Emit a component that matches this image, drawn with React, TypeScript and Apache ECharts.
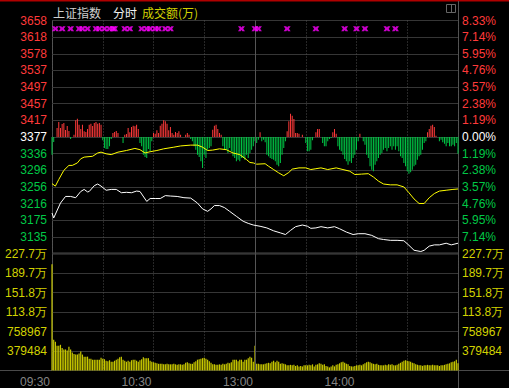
import React, { useEffect, useRef } from 'react';
import * as echarts from 'echarts';

// ---------- data ----------
const PREV_CLOSE = 3376.6;
const PRICE_STEP = 40.2;

// axis labels, bottom to top (index 0 hidden: shared with volume top)
const PRICE_LABELS = ['', '3135', '3175', '3216', '3256', '3296', '3336', '3377', '3417', '3457', '3497', '3537', '3578', '3618', '3658'];
const PCT_LABELS = ['', '7.14%', '5.95%', '4.76%', '3.57%', '2.38%', '1.19%', '0.00%', '1.19%', '2.38%', '3.57%', '4.76%', '5.95%', '7.14%', '8.33%'];
const VOL_LABELS = ['', '379484', '758967', '113.8万', '151.8万', '189.7万', '227.7万'];
const VOL_MAX = 227.6904; // 万

const TIME_TICKS = [0, 60, 120, 180];
const TIME_LABELS = ['09:30', '10:30', '13:00', '14:00'];

// index line (white)
const PRICE_MINUTES = [0, 1, 5, 8, 11, 14, 17, 19, 21, 22, 25, 27, 29, 32, 35, 38, 41, 44, 47, 50, 52, 56, 58, 61, 64, 67, 70, 74, 78, 82, 86, 89, 92, 94, 96, 99, 102, 105, 109, 113, 116, 119, 123, 127, 131, 135, 138, 141, 144, 148, 151, 153, 156, 159, 163, 167, 170, 174, 178, 181, 185, 189, 193, 196, 200, 204, 208, 211, 214, 218, 220, 223, 226, 229, 233, 236, 240];
const PRICE_VALUES = [3193, 3181, 3217, 3233, 3233, 3230, 3245, 3250, 3244, 3245, 3259, 3263, 3258, 3248, 3250, 3250, 3242, 3243, 3242, 3246, 3245, 3221, 3228, 3228, 3228, 3235, 3234, 3233, 3230, 3229, 3217, 3203, 3197, 3203, 3211, 3211, 3206, 3197, 3185, 3173, 3168, 3164, 3161, 3157, 3150, 3145, 3141, 3151, 3160, 3164, 3161, 3156, 3157, 3160, 3157, 3160, 3155, 3147, 3141, 3143, 3143, 3139, 3131, 3129, 3127, 3127, 3126, 3115, 3103, 3100, 3103, 3113, 3116, 3116, 3120, 3116, 3120];

// average line (yellow)
const AVG_MINUTES = [0, 2, 4, 7, 10, 12, 15, 17, 19, 24, 27, 29, 32, 35, 39, 44, 49, 52, 55, 58, 62, 66, 72, 76, 82, 86, 89, 92, 95, 99, 103, 107, 111, 115, 117, 119, 121, 126, 128, 131, 134, 137, 140, 142, 146, 150, 153, 156, 159, 163, 168, 172, 176, 179, 183, 187, 190, 193, 196, 200, 204, 208, 211, 214, 217, 220, 223, 226, 229, 233, 237, 240];
const AVG_VALUES = [3264, 3258, 3274, 3296, 3308, 3308, 3314, 3324, 3328, 3330, 3338, 3340, 3336, 3334, 3340, 3344, 3349, 3346, 3338, 3341, 3344, 3348, 3352, 3355, 3357, 3357, 3352, 3344, 3345, 3348, 3346, 3338, 3334, 3322, 3315, 3314, 3311, 3312, 3306, 3298, 3290, 3283, 3291, 3299, 3302, 3302, 3298, 3300, 3302, 3298, 3302, 3298, 3294, 3286, 3287, 3288, 3280, 3270, 3263, 3261, 3261, 3256, 3242, 3227, 3216, 3216, 3230, 3240, 3246, 3248, 3250, 3251];

// red / green strength bars, one per minute
const STRENGTH = [
  -17.7, -5, 0, 9, 15, 9, 13, 14, 7, 11,
  6, -2, 0, 2.3, 16.7, 18.3, 12.3, 8, 12.3, 5.7,
  5, 8, 12.3, 13.3, 11, 14, 15, 13.3, 14, 12.3,
  -3.3, -11, -12, -12, -9.3, -2, 4, 5, 6, 4,
  0, 0, -6, 2.3, 3, 9, 4.7, 10, 11.3, 10.7,
  12.3, 8, -6, -9.3, -17.7, -20, -21, -12, -14.3, -4.3,
  4, 3.3, 6.7, 4, 11.3, 13.3, 16.7, 15.7, 13.3, 6.7,
  10, 4, 2.3, 5, 4, 5.7, 2.3, 0, 0, 2.3,
  4, 2.3, -2, -4.3, -9.3, -12.7, -17.7, -20, -24.3, -31,
  -17.7, -21, -12.7, -11, -9.3, 7.3, 11.3, 12.3, 8, 4,
  2.3, -9.3, -12, -12.7, -16, -11, -14.3, -19.3, -21, -24.3,
  -22.7, -24.3, -21, -21, -22.7, -17.7, -21, -16, -12.7, -9.3,
  -4.3, -6, -2.7, 4.7, -4.3, -2.7, -5.3, -17.7, -19.3, -21,
  -22, -22.7, -24.3, -27.7, -29.3, -26, -17.7, -11, -4.3, 5.7,
  15.7, 23.3, 21.3, 18, 4, 4, 3.3, 0, 2.3, 0,
  -6, -14.3, -14.3, -12.7, -3.3, 0, 4.7, 8, 8, 0,
  -6, -9.3, -9.3, -4.3, -2, -1, 4.7, 8, 3.3, -9.3,
  -12.7, -14.3, -17.7, -22, -24.3, -27.7, -24.3, -26, -21, -17.7,
  -12.7, -4.3, 3.3, 0, -4.3, -7.7, -17.7, -21, -29.3, -32.7,
  -34.3, -27.7, -24.3, -21, -17.7, -16, -12.7, -11, -14.3, -11,
  -9.3, -12.7, -9.3, -12.7, -9.3, -14.3, -19.3, -21, -26, -29.3,
  -34.3, -36.7, -35.3, -32.7, -29.3, -27.7, -22.7, -19.3, -17.7, -12.7,
  -6, -4.3, 4.7, 8, 11.3, 12.3, 10, 1.3, 0, -4.3,
  -2.7, -5.3, -6.7, -9.3, -6, -9.3, -9.3, -7.7, -9.3, -6,
  -16.7,
];
const STRENGTH_RANGE = 116.5;

// turnover per minute (万)
const VOLUME = [
  207, 60, 56, 48, 48, 50, 44, 41, 41, 39,
  46, 41, 35, 32, 31, 31, 33, 37, 31, 27,
  27, 27, 23, 23, 21, 21, 21, 21, 21, 25,
  23, 22, 19, 18, 20, 17, 17, 19, 21, 23,
  26, 27, 21, 19, 17, 19, 17, 20, 21, 21,
  19, 17, 20, 22, 26, 24, 24, 24, 19, 17,
  16, 15, 14, 13, 13, 13, 12, 12, 13, 12,
  12, 12, 13, 12, 11, 12, 12, 11, 12, 15,
  16, 14, 13, 13, 16, 18, 21, 22, 23, 24,
  25, 23, 21, 18, 15, 12, 12, 11, 11, 12,
  11, 13, 12, 13, 15, 14, 16, 21, 21, 21,
  18, 21, 21, 17, 21, 21, 24, 27, 25, 17,
  48, 13, 13, 12, 12, 12, 13, 14, 15, 14,
  17, 19, 16, 19, 17, 13, 14, 13, 12, 10,
  10, 11, 10, 11, 9, 10, 8, 9, 8, 10,
  10, 10, 11, 10, 12, 8, 11, 12, 14, 13,
  11, 12, 9, 8, 6, 8, 10, 8, 11, 12,
  14, 16, 17, 15, 13, 12, 9, 8, 8, 9,
  10, 10, 11, 10, 12, 14, 16, 17, 16, 14,
  13, 12, 13, 11, 10, 10, 10, 11, 10, 12,
  11, 12, 10, 10, 11, 13, 15, 17, 19, 20,
  19, 18, 17, 15, 14, 12, 11, 10, 10, 9,
  10, 10, 11, 10, 10, 11, 10, 10, 10, 9,
  10, 10, 11, 12, 13, 14, 16, 17, 18, 21,
  14,
];

// magenta signal markers (minute index)
const MARKER_MINUTES = [2, 6, 11, 16, 18, 21, 26, 28, 31, 34, 36, 37, 43, 46, 53, 56, 58, 61, 63, 67, 70, 112, 120, 122, 139, 156, 173, 180, 185, 198, 203];

// ---------- styles ----------
const RED = '#FF3A3A';
const GREEN = '#00C846';
const WHITE = '#FFFFFF';
const VOL_TXT = '#D2D200';
const GRID_LINE = '#363636';
const FONT = 'Liberation Sans, Arial, sans-serif';

const PRICE_MIN = PREV_CLOSE - 7 * PRICE_STEP;
const PRICE_MAX = PREV_CLOSE + 7 * PRICE_STEP;
const MARKER_LEVEL = PREV_CLOSE + 6.5 * PRICE_STEP;

const L = 52;
const R = 458;
const TOP = 20.5;
const MID = 253.5;
const BOT = 370.5;

const richBase = { fontSize: 12, fontFamily: FONT };
const rich = {
  r: { ...richBase, color: RED },
  g: { ...richBase, color: GREEN },
  w: { ...richBase, color: WHITE },
  v: { ...richBase, color: VOL_TXT },
};

function priceFmt(arr: string[]) {
  return (val: number) => {
    const i = Math.round(val);
    const t = arr[i];
    if (!t) return '';
    const k = i > 7 ? 'r' : i === 7 ? 'w' : 'g';
    return `{${k}|${t}}`;
  };
}
function volFmt(val: number) {
  const t = VOL_LABELS[Math.round(val)];
  return t ? `{v|${t}}` : '';
}

export default function App() {
  const ref = useRef<HTMLDivElement>(null);

  useEffect(() => {
    document.body.style.margin = '0';
    document.body.style.background = '#000';
    if (!ref.current) return;
    const chart = echarts.init(ref.current, undefined, { renderer: 'svg' });

    const xBase = {
      type: 'value' as const,
      min: 0,
      max: 240,
      interval: 30,
      axisLine: { show: false },
      axisTick: { show: false },
      splitLine: { show: true, lineStyle: { color: '#4e4e4e', type: [1, 2] as any, width: 1 } },
    };

    const midLine = {
      silent: true,
      symbol: 'none',
      label: { show: false },
      lineStyle: { color: '#555555', type: 'solid' as const, width: 1 },
      data: [{ xAxis: 120 }],
    };

    const option: any = {
      animation: false,
      backgroundColor: '#000000',
      grid: [
        { left: L, right: 509 - R, top: TOP, height: MID - TOP },
        { left: L, right: 509 - R, top: MID, height: BOT - MID },
      ],
      xAxis: [
        { ...xBase, gridIndex: 0, axisLabel: { show: false } },
        {
          ...xBase,
          gridIndex: 1,
          axisLabel: {
            show: true,
            align: 'right',
            margin: 5,
            color: '#858585',
            fontSize: 12,
            fontFamily: FONT,
            padding: [0, 2, 0, 0],
            formatter: (v: number) => {
              const i = TIME_TICKS.indexOf(Math.round(v));
              return i >= 0 ? TIME_LABELS[i] : '';
            },
          },
        },
      ],
      yAxis: [
        {
          gridIndex: 0, type: 'value', min: 0, max: 14, interval: 1, position: 'left',
          axisLine: { show: false }, axisTick: { show: false },
          splitLine: { show: true, lineStyle: { color: GRID_LINE, width: 1 } },
          axisLabel: { show: true, margin: 5, showMinLabel: true, showMaxLabel: true, formatter: priceFmt(PRICE_LABELS), rich },
        },
        {
          gridIndex: 0, type: 'value', min: 0, max: 14, interval: 1, position: 'right',
          axisLine: { show: false }, axisTick: { show: false }, splitLine: { show: false },
          axisLabel: { show: true, margin: 4, align: 'left', showMinLabel: true, showMaxLabel: true, formatter: priceFmt(PCT_LABELS), rich },
        },
        { gridIndex: 0, type: 'value', min: PRICE_MIN, max: PRICE_MAX, show: false },
        { gridIndex: 0, type: 'value', min: -STRENGTH_RANGE, max: STRENGTH_RANGE, show: false },
        {
          gridIndex: 1, type: 'value', min: 0, max: 6, interval: 1, position: 'left',
          axisLine: { show: false }, axisTick: { show: false },
          splitLine: { show: true, lineStyle: { color: GRID_LINE, width: 1 } },
          axisLabel: { show: true, margin: 5, showMinLabel: true, showMaxLabel: true, formatter: volFmt, rich },
        },
        {
          gridIndex: 1, type: 'value', min: 0, max: 6, interval: 1, position: 'right',
          axisLine: { show: false }, axisTick: { show: false }, splitLine: { show: false },
          axisLabel: { show: true, margin: 4, align: 'left', showMinLabel: true, showMaxLabel: true, formatter: volFmt, rich },
        },
        { gridIndex: 1, type: 'value', min: 0, max: VOL_MAX, show: false },
      ],
      series: [
        {
          type: 'bar',
          xAxisIndex: 0,
          yAxisIndex: 3,
          barWidth: 1,
          silent: true,
          data: STRENGTH.map((v, i) => [i, v]),
          itemStyle: {
            color: (p: any) => (p.value[1] >= 0 ? RED : GREEN),
          },
          markLine: midLine,
          z: 2,
        },
        {
          type: 'line',
          xAxisIndex: 0,
          yAxisIndex: 2,
          showSymbol: false,
          silent: true,
          data: AVG_MINUTES.map((m, i) => [m, AVG_VALUES[i]]),
          lineStyle: { color: '#FFFF00', width: 1 },
          z: 4,
        },
        {
          type: 'line',
          xAxisIndex: 0,
          yAxisIndex: 2,
          showSymbol: false,
          silent: true,
          data: PRICE_MINUTES.map((m, i) => [m, PRICE_VALUES[i]]),
          lineStyle: { color: '#FFFFFF', width: 1 },
          z: 5,
        },
        {
          type: 'scatter',
          xAxisIndex: 0,
          yAxisIndex: 2,
          silent: true,
          symbol: 'path://M0 0H3L4 1.5L5 0H8L6 3L8 6H5L4 4.5L3 6H0L2 3Z',
          symbolSize: [7, 5],
          itemStyle: { color: '#FF00FF' },
          data: MARKER_MINUTES.map((m) => [m, MARKER_LEVEL]),
          z: 6,
        },
        {
          type: 'bar',
          xAxisIndex: 1,
          yAxisIndex: 6,
          barWidth: 1.2,
          silent: true,
          data: VOLUME.map((v, i) => [i, v]),
          itemStyle: { color: '#C8C800' },
          markLine: midLine,
          z: 2,
        },
      ],
      graphic: [
        { type: 'rect', silent: true, shape: { x: 0, y: 0, width: 509, height: 1.5 }, style: { fill: '#B00000' } },
        { type: 'line', silent: true, shape: { x1: L + 0.5, y1: TOP, x2: L + 0.5, y2: BOT }, style: { stroke: '#555555', lineWidth: 1 } },
        { type: 'line', silent: true, shape: { x1: R + 0.5, y1: 1, x2: R + 0.5, y2: 388 }, style: { stroke: '#555555', lineWidth: 1 } },
        { type: 'line', silent: true, shape: { x1: L, y1: MID, x2: R, y2: MID }, style: { stroke: '#484848', lineWidth: 2 } },
        { type: 'line', silent: true, shape: { x1: 0, y1: BOT, x2: 509, y2: BOT }, style: { stroke: '#4a4a4a', lineWidth: 1 } },
        { type: 'rect', silent: true, shape: { x: 446.5, y: 4.5, width: 9, height: 8 }, style: { fill: 'none', stroke: '#666666', lineWidth: 1 } },
        { type: 'line', silent: true, shape: { x1: 451.5, y1: 4.5, x2: 451.5, y2: 12.5 }, style: { stroke: '#666666', lineWidth: 1 } },
        { type: 'text', silent: true, x: 53, y: 12, style: { text: '上证指数', fill: '#CFCFCF', fontSize: 12, fontFamily: 'Noto Sans CJK SC, sans-serif', verticalAlign: 'middle' } },
        { type: 'text', silent: true, x: 113, y: 12, style: { text: '分时', fill: '#F0F0F0', fontSize: 12, fontFamily: 'Noto Sans CJK SC, sans-serif', verticalAlign: 'middle' } },
        { type: 'text', silent: true, x: 142, y: 12, style: { text: '成交额(万)', fill: VOL_TXT, fontSize: 12, fontFamily: 'Noto Sans CJK SC, sans-serif', verticalAlign: 'middle' } },
      ],
    };

    chart.setOption(option);
    return () => chart.dispose();
  }, []);

  return <div ref={ref} style={{ width: 509, height: 388, background: '#000' }} />;
}
